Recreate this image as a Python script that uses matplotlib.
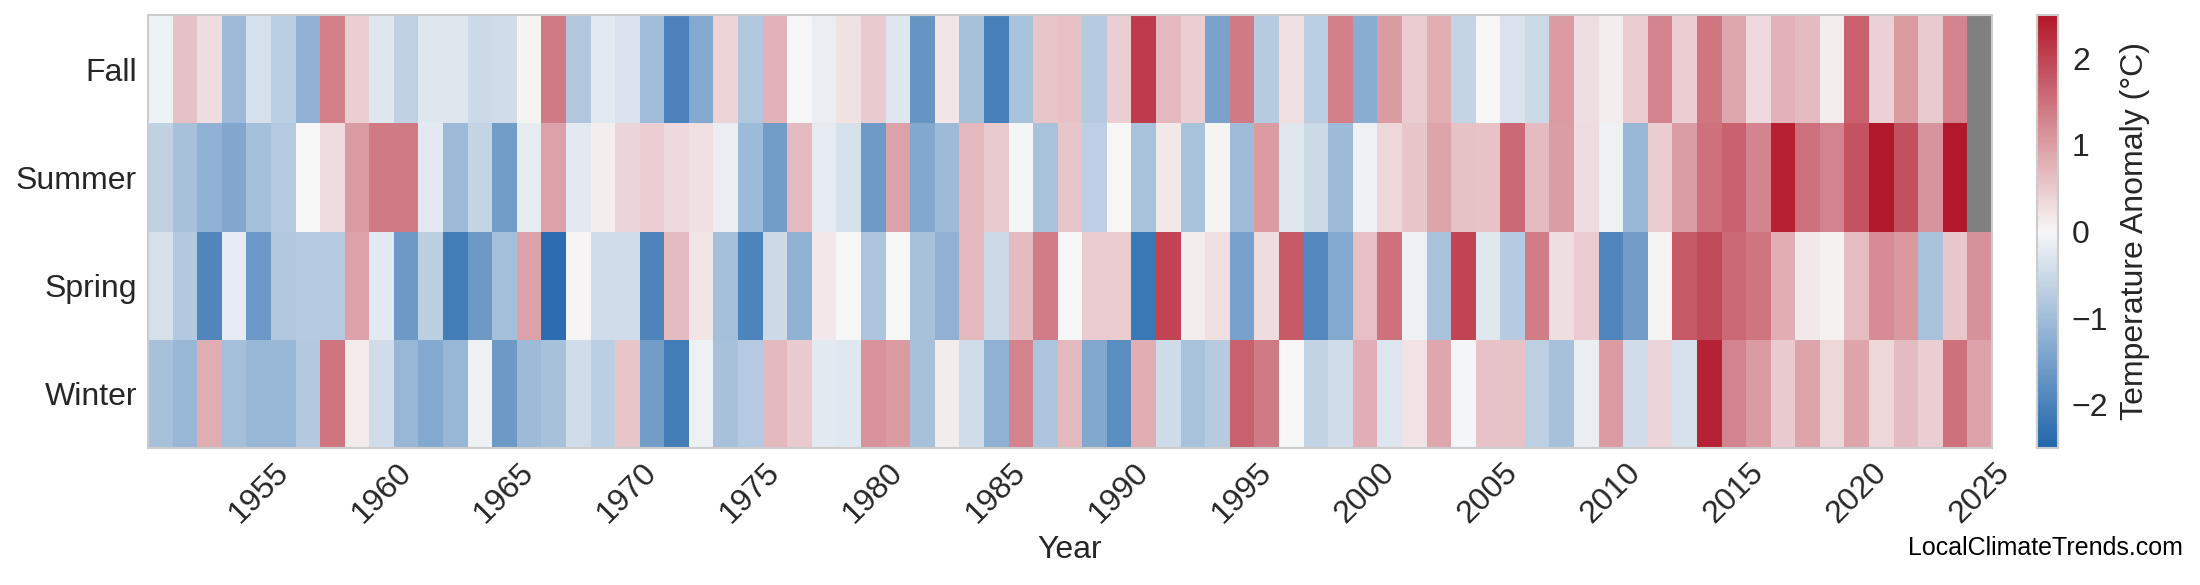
import numpy as np
import matplotlib
matplotlib.use("Agg")
import matplotlib.pyplot as plt
from matplotlib.colors import LinearSegmentedColormap

years = list(range(1951, 2026))
seasons = ["Fall", "Summer", "Spring", "Winter"]

fall = [-0.1, 0.6, 0.3, -1.05, -0.4, -0.7, -1.2, 1.33, 0.45, -0.28,
        -0.65, -0.28, -0.28, -0.5, -0.45, 0.05, 1.4, -0.83, -0.25, -0.35,
        -1.0, -2.0, -1.34, 0.4, -0.83, 0.78, 0.0, -0.15, 0.25, 0.5,
        -0.28, -1.68, 0.2, -0.93, -2.07, -0.9, 0.55, 0.62, -0.75, 0.45,
        2.1, 0.7, 0.45, -1.45, 1.4, -0.75, 0.27, -0.7, 1.33, -1.27,
        1.03, 0.48, 0.83, -0.6, 0.0, -0.35, -0.5, 1.03, 0.28, 0.1,
        0.47, 1.3, 0.45, 1.43, 0.9, 0.33, 0.78, 0.68, 0.1, 1.68,
        0.42, 1.03, 0.5, 1.3, np.nan]
summer = [-0.65, -0.92, -1.2, -1.38, -0.97, -0.77, 0.0, 0.3, 1.03, 1.4,
          1.4, -0.25, -1.07, -0.6, -1.55, -0.18, 0.95, -0.25, 0.1, 0.38,
          0.45, 0.33, 0.27, -0.15, -1.05, -1.55, 0.68, -0.2, -0.4, -1.6,
          0.95, -1.36, -1.05, 0.7, 0.5, -0.02, -0.9, 0.55, -0.68, 0.0,
          -0.9, 0.17, -0.9, 0.05, -1.03, 1.03, -0.27, -0.5, -1.05, -0.1,
          0.36, 0.55, 0.92, 0.6, 0.58, 1.57, 0.68, 1.0, 0.3, -0.1,
          -1.1, 0.48, 1.0, 1.5, 1.67, 1.27, 2.4, 1.5, 1.3, 1.85,
          2.5, 1.87, 1.1, 2.5, np.nan]
spring = [-0.4, -0.8, -1.94, -0.2, -1.63, -0.83, -0.78, -0.78, 0.95, -0.25,
          -1.62, -0.7, -2.1, -1.62, -0.97, 0.95, -2.37, 0.03, -0.45, -0.45,
          -1.98, 0.68, 0.2, -0.97, -1.98, -0.5, -1.2, 0.17, 0.0, -0.87,
          0.0, -0.93, -1.2, 0.7, -0.5, 0.68, 1.38, 0.0, 0.48, 0.48,
          -2.2, 2.0, 0.1, 0.27, -1.5, 0.3, 1.76, -1.9, -1.33, 0.62,
          1.5, -0.1, -0.9, 2.0, -0.27, -0.75, 1.35, 0.28, 0.48, -1.97,
          -1.55, 0.05, 1.76, 1.92, 1.6, 1.45, 0.83, 0.17, 0.07, 0.65,
          1.2, 1.05, -0.9, 0.53, 1.15]
winter = [-0.93, -1.1, 0.83, -0.97, -1.1, -1.1, -0.8, 1.45, 0.15, -0.45,
          -1.1, -1.34, -1.1, -0.1, -1.62, -1.05, -0.93, -0.45, -0.7, 0.55,
          -1.55, -2.1, -0.1, -0.93, -0.77, 0.7, 0.5, -0.25, -0.27, 1.12,
          1.03, -0.93, 0.12, -0.45, -1.2, 1.3, -0.87, 0.7, -1.35, -1.83,
          0.83, -0.48, -0.9, -0.75, 1.68, 1.4, 0.0, -0.62, -0.45, 0.82,
          -0.3, 0.22, 0.88, -0.03, 0.58, 0.58, -0.67, -0.93, -0.15, 1.03,
          -0.45, 0.38, -0.38, 2.37, 1.3, 1.03, 0.5, 0.92, 0.36, 0.92,
          0.37, 0.68, 0.45, 1.5, 0.95]

tick_years = list(range(1955, 2026, 5))
cbar_ticks = [-2, -1, 0, 1, 2]

data = np.array([fall, summer, spring, winter], dtype=float)
masked = np.ma.masked_invalid(data)

plt.rcParams['font.family'] = ['Liberation Sans', 'DejaVu Sans']
plt.rcParams['axes.unicode_minus'] = True

cmap = LinearSegmentedColormap.from_list('anom', ['#2166ac', '#f7f7f7', '#b2182b'])
cmap.set_bad('#808080')

W, H = 2200, 585
top, bottom = 15, 448
fig = plt.figure(figsize=(22, 5.85), dpi=100)
ax = fig.add_axes([148/W, 1-bottom/H, (1992-148)/W, (bottom-top)/H])
cax = fig.add_axes([2037/W, 1-bottom/H, 21/W, (bottom-top)/H])

mesh = ax.pcolormesh(np.arange(len(years)+1), np.arange(len(seasons)+1), masked,
                     cmap=cmap, vmin=-2.5, vmax=2.5)
ax.set_xlim(0, len(years))
ax.set_ylim(len(seasons), 0)
ax.grid(False)

xt = [years.index(y) + 0.5 for y in tick_years]
ax.set_xticks(xt)
ax.set_xticklabels([str(y) for y in tick_years], rotation=45, ha='center',
                   fontsize=23, color='#262626')
ax.set_yticks(np.arange(len(seasons)) + 0.5)
ax.set_yticklabels(seasons, fontsize=23, color='#262626')
ax.tick_params(axis='x', length=0, pad=7)
ax.tick_params(axis='y', length=0, pad=8)
ax.set_xlabel('Year', fontsize=23, color='#262626', labelpad=4)
for s in ax.spines.values():
    s.set_color('#cccccc')
    s.set_linewidth(1.5)

cb = fig.colorbar(mesh, cax=cax)
cb.set_ticks(cbar_ticks)
cb.ax.tick_params(labelsize=23, length=0, pad=10, labelcolor='#262626')
cb.set_label('Temperature Anomaly (°C)', fontsize=23, color='#262626', labelpad=8)
cb.outline.set_edgecolor('#cccccc')
cb.outline.set_linewidth(1.5)

fig.text(2183/W, 1-555/H, 'LocalClimateTrends.com', ha='right', va='baseline',
         fontsize=18, color='black')

fig.savefig('out.png', dpi=100)
